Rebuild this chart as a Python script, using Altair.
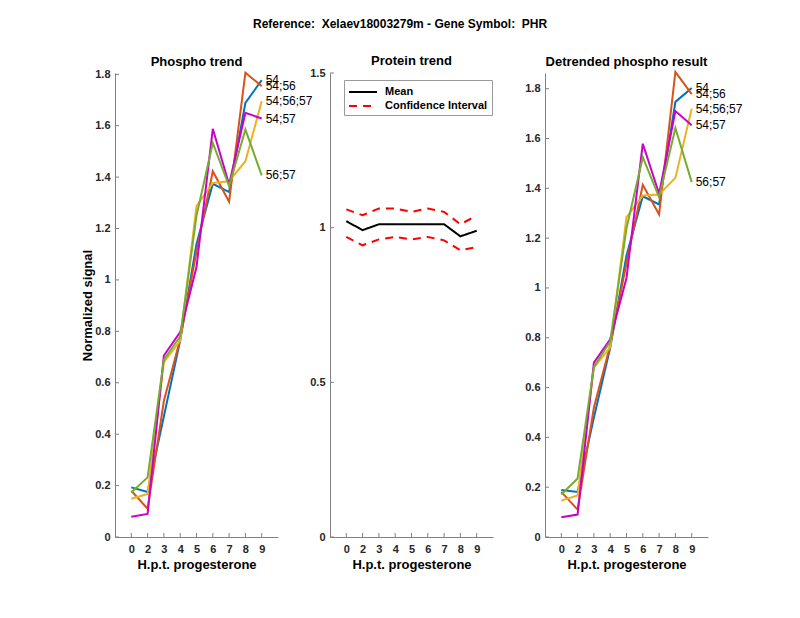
import altair as alt
import pandas as pd

# ---------------- data ----------------
hours = ["0", "2", "3", "4", "5", "6", "7", "8", "9"]
positions = [1, 2, 3, 4, 5, 6, 7, 8, 9]
sites = ["54", "54;56", "54;56;57", "54;57", "56;57"]
site_colors = ["#0072BD", "#D95319", "#EDB120", "#CC00CC", "#77AC30"]

# Phospho trend (normalized signal)
phos_54 = [0.193, 0.175, 0.47, 0.765, 1.14, 1.374, 1.342, 1.689, 1.777]
phos_54_56 = [0.180, 0.110, 0.53, 0.770, 1.11, 1.423, 1.304, 1.806, 1.754]
phos_54_56_57 = [0.149, 0.167, 0.68, 0.764, 1.287, 1.377, 1.384, 1.462, 1.695]
phos_54_57 = [0.079, 0.090, 0.706, 0.797, 1.05, 1.588, 1.371, 1.650, 1.628]
phos_56_57 = [0.173, 0.232, 0.69, 0.781, 1.25, 1.533, 1.365, 1.585, 1.407]

# Detrended phospho result
det_54 = [0.189, 0.181, 0.48, 0.760, 1.13, 1.368, 1.335, 1.747, 1.803]
det_54_56 = [0.181, 0.110, 0.52, 0.770, 1.10, 1.414, 1.295, 1.867, 1.778]
det_54_56_57 = [0.146, 0.167, 0.68, 0.761, 1.284, 1.371, 1.375, 1.442, 1.720]
det_54_57 = [0.079, 0.090, 0.700, 0.794, 1.04, 1.579, 1.378, 1.710, 1.653]
det_56_57 = [0.171, 0.235, 0.683, 0.785, 1.24, 1.525, 1.364, 1.642, 1.425]

# Protein trend
protein_mean = [1.021, 0.992, 1.011, 1.011, 1.011, 1.011, 1.011, 0.972, 0.990]
protein_upper = [1.059, 1.040, 1.062, 1.062, 1.051, 1.062, 1.051, 1.011, 1.039]
protein_lower = [0.970, 0.943, 0.962, 0.970, 0.962, 0.970, 0.959, 0.927, 0.937]

phos_series = [phos_54, phos_54_56, phos_54_56_57, phos_54_57, phos_56_57]
det_series = [det_54, det_54_56, det_54_56_57, det_54_57, det_56_57]

# ---------------- styling ----------------
FONT = "Liberation Sans"
AX = "#808080"
W, H = 163, 464
TICK = 4

label_expr = "[''," + ",".join("'%s'" % h for h in hours) + "][datum.value]"


def long_frame(series_list):
    rows = []
    for site, vals in zip(sites, series_list):
        for p, h, v in zip(positions, hours, vals):
            rows.append({"pos": p, "hour": h, "site": site, "value": v})
    return pd.DataFrame(rows)


def xenc():
    return alt.X(
        "pos:Q",
        scale=alt.Scale(domain=[0, 10], nice=False, zero=False),
        axis=alt.Axis(values=positions, labelExpr=label_expr, title="H.p.t. progesterone",
                      tickSize=0, grid=False, labelPadding=6, titlePadding=4,
                      labelOverlap=False, labelFlush=False),
    )


def yenc(field, ymax, ticks, title):
    kw = dict(values=ticks, format="~g", tickSize=0, grid=False, labelPadding=5,
              labelOverlap=False, labelFlush=False)
    if title:
        kw["title"] = title
        kw["titlePadding"] = 0
    else:
        kw["title"] = None
    return alt.Y(field, scale=alt.Scale(domain=[0, ymax], nice=False), axis=alt.Axis(**kw))


def tick_layers(ymax, ticks, ytitle):
    xt = alt.Chart(pd.DataFrame({"pos": positions})).mark_rule(color=AX, strokeWidth=1).encode(
        x=xenc(), y=alt.value(H), y2=alt.value(H - TICK))
    yt = alt.Chart(pd.DataFrame({"value": ticks})).mark_rule(color=AX, strokeWidth=1).encode(
        y=yenc("value:Q", ymax, ticks, ytitle), x=alt.value(0), x2=alt.value(TICK))
    return [xt, yt]


def panel_title(text):
    return alt.TitleParams(text, fontSize=13, font=FONT, fontWeight="bold", offset=-1)


def site_panel(series_list, ymax, ticks, title, ytitle):
    df = long_frame(series_list)
    last = df[df["pos"] == positions[-1]]
    color = alt.Color("site:N", scale=alt.Scale(domain=sites, range=site_colors), legend=None)
    lines = alt.Chart(df).mark_line(strokeWidth=2).encode(
        x=xenc(), y=yenc("value:Q", ymax, ticks, ytitle), color=color, detail="site:N")
    labels = alt.Chart(last).mark_text(
        align="left", baseline="middle", dx=4, fontSize=12, font=FONT, color="black"
    ).encode(x=xenc(), y=yenc("value:Q", ymax, ticks, ytitle), text="site:N")
    return alt.layer(*tick_layers(ymax, ticks, ytitle), lines, labels).properties(
        width=W, height=H, title=panel_title(title))


# protein panel
prot_rows = []
for name, series, vals in [("mean", "Mean", protein_mean),
                           ("upper", "Confidence Interval", protein_upper),
                           ("lower", "Confidence Interval", protein_lower)]:
    for p, v in zip(positions, vals):
        prot_rows.append({"pos": p, "value": v, "series": series, "line": name})
prot_df = pd.DataFrame(prot_rows)

leg_kw = dict(title=None, orient="none", legendX=14, legendY=7, direction="vertical",
              symbolType="M-2,0H2", symbolSize=196, symbolStrokeWidth=2, symbolOffset=7,
              labelFont=FONT, labelFontSize=11, labelFontWeight="bold", labelColor="black",
              strokeColor="#9a9a9a", fillColor="white", padding=4, labelOffset=14, rowPadding=1)
prot_domain = ["Mean", "Confidence Interval"]
prot_lines = alt.Chart(prot_df).mark_line(strokeWidth=2).encode(
    x=xenc(),
    y=yenc("value:Q", 1.5, [0, 0.5, 1, 1.5], None),
    color=alt.Color("series:N", scale=alt.Scale(domain=prot_domain, range=["black", "red"]),
                    legend=alt.Legend(**leg_kw)),
    strokeDash=alt.StrokeDash("series:N", scale=alt.Scale(domain=prot_domain, range=[[1, 0], [8, 6]]),
                              legend=alt.Legend(**leg_kw)),
    detail="line:N",
)
protein_panel = alt.layer(*tick_layers(1.5, [0, 0.5, 1, 1.5], None), prot_lines).properties(
    width=W, height=H, title=panel_title("Protein trend"))

left = site_panel(phos_series, 1.805, [0, 0.2, 0.4, 0.6, 0.8, 1, 1.2, 1.4, 1.6, 1.8],
                  "Phospho trend", "Normalized signal")
right = site_panel(det_series, 1.863, [0, 0.2, 0.4, 0.6, 0.8, 1, 1.2, 1.4, 1.6, 1.8],
                   "Detrended phospho result", None)

chart = alt.hconcat(left, protein_panel, right, spacing=52, bounds="flush").resolve_scale(
    color="independent", strokeDash="independent"
).properties(
    title=alt.TitleParams("Reference:\u00a0 Xelaev18003279m - Gene Symbol:\u00a0 PHR", fontSize=12, font=FONT,
                          fontWeight="bold", anchor="middle", dx=-12, offset=24),
    padding={"left": 73, "top": 10, "right": 5, "bottom": 5},
).configure_view(stroke=None).configure_axis(
    labelFont=FONT, labelFontSize=11, labelFontWeight="bold", labelColor="#262626",
    titleFont=FONT, titleFontSize=13, titleFontWeight="bold", titleColor="black",
    domainColor=AX, domainWidth=1,
).configure_title(font=FONT, color="black")

chart.save("out.html", embed_options={"renderer": "svg", "actions": False})
